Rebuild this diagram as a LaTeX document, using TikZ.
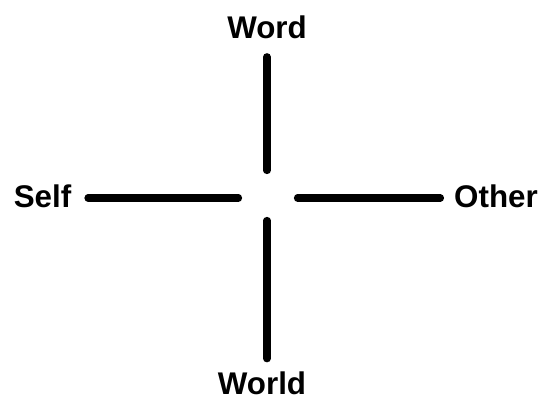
\documentclass[tikz,border=0pt]{standalone}
\usepackage{fontspec}
\setmainfont{Liberation Sans}
\usepackage{tikz}
\usetikzlibrary{positioning,calc}

\begin{document}
\begin{tikzpicture}[x=0.75pt,y=-0.75pt,
  lbl/.style={inner sep=0pt,font=\fontsize{23.5}{28}\selectfont\bfseries},
  arm/.style={line width=5.4pt,line cap=round}]
\useasboundingbox (0,0) rectangle (544,399);
\coordinate (c) at (267,198);
\node[lbl] (word) at (267,27.5) {Word};
\node[lbl] (world) at (262,383) {World};
\node[lbl] (self) at (42.5,196) {Self};
\node[lbl] (other) at (496,196) {Other};
\draw[arm,shorten <=17.5pt*0.75,shorten >=27.5pt*0.75] (word.south) -- (c);
\draw[arm,shorten <=22.5pt*0.75,shorten >=12.5pt*0.75] (c) -- (c |- world.north);
\draw[arm,shorten <=16.5pt*0.75,shorten >=28.5pt*0.75] (self.east |- c) -- (c);
\draw[arm,shorten <=30.5pt*0.75,shorten >=13.5pt*0.75] (c) -- (c -| other.west);
\end{tikzpicture}
\end{document}
